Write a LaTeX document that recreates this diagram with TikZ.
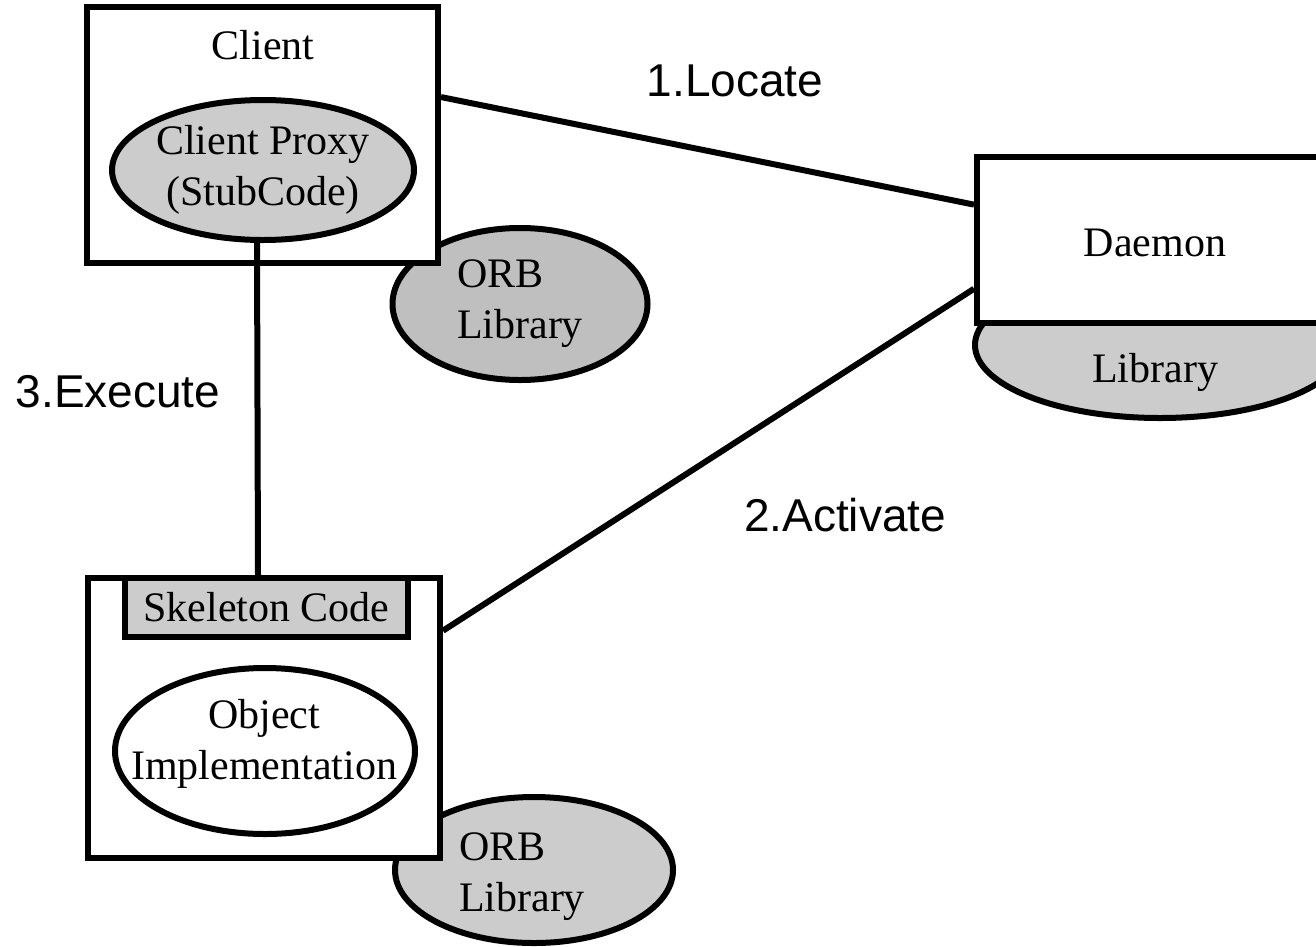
\documentclass[tikz,border=0pt]{standalone}
\usepackage{fontspec}
\setmainfont{Liberation Serif}
\newfontfamily\stepfont{Liberation Sans}
\usetikzlibrary{shapes.geometric}
\begin{document}
\begin{tikzpicture}[x=1pt,y=-1pt,
  box/.style={draw, rectangle, line width=6pt, fill=white, inner sep=0pt},
  blob/.style={draw, ellipse, line width=6pt, fill=gray!40, inner sep=0pt, align=center},
  txt/.style={font=\fontsize{42}{51}\selectfont, align=center},
  steptxt/.style={font=\stepfont\fontsize{46}{55}\selectfont}]
  \useasboundingbox (0,0) rectangle (1316,946);
  % libraries behind the boxes
  \node[blob, fill=gray!50, txt, align=left, minimum width=255pt, minimum height=152pt] (orbA) at (520,304) {ORB\\Library};
  \node[blob, minimum width=278pt, minimum height=146pt] (orbB) at (534,870) {};
  \node[txt, align=left] (orbBtext) at (522,877) {ORB\\Library};
  \node[blob, minimum width=370pt, minimum height=146pt] (daemonlib) at (1160,345) {};
  \node[txt] (daemonlibtext) at (1155,372) {Library};
  % client side
  \node[box, minimum width=351pt, minimum height=256pt] (client) at (262.5,135) {};
  \node[txt] (clienttext) at (263,45) {Client};
  \node[blob, txt, minimum width=300pt, minimum height=140pt] (proxy) at (263,170) {Client Proxy\\(StubCode)};
  % daemon
  \node[box, minimum width=358pt, minimum height=166pt] (daemon) at (1156,240) {};
  \node[txt] (daemontext) at (1155,243) {Daemon};
  % server side
  \node[box, minimum width=352pt, minimum height=280pt] (skel) at (264,718) {};
  \node[box, fill=gray!40, txt, minimum width=283pt, minimum height=59pt] (skelcode) at (266.5,607.5) {Skeleton Code};
  \node[blob, fill=white, minimum width=300pt, minimum height=166pt] (objimpl) at (265,751) {};
  \node[txt] (objtext) at (264,744) {Object\\Implementation};
  % connectors
  \draw[line width=6pt] (client.12.8) -- (daemon.169.9);
  \draw[line width=6pt] (daemon.195.6) -- (skel.26.6);
  \draw[line width=6pt] ([xshift=-6pt]proxy.south) -- ([xshift=-6pt]skel.north);
  \node[steptxt] (locate) at (735,81) {1.Locate};
  \node[steptxt] (execute) at (118,392) {3.Execute};
  \node[steptxt] (activate) at (845,515) {2.Activate};
\end{tikzpicture}
\end{document}
